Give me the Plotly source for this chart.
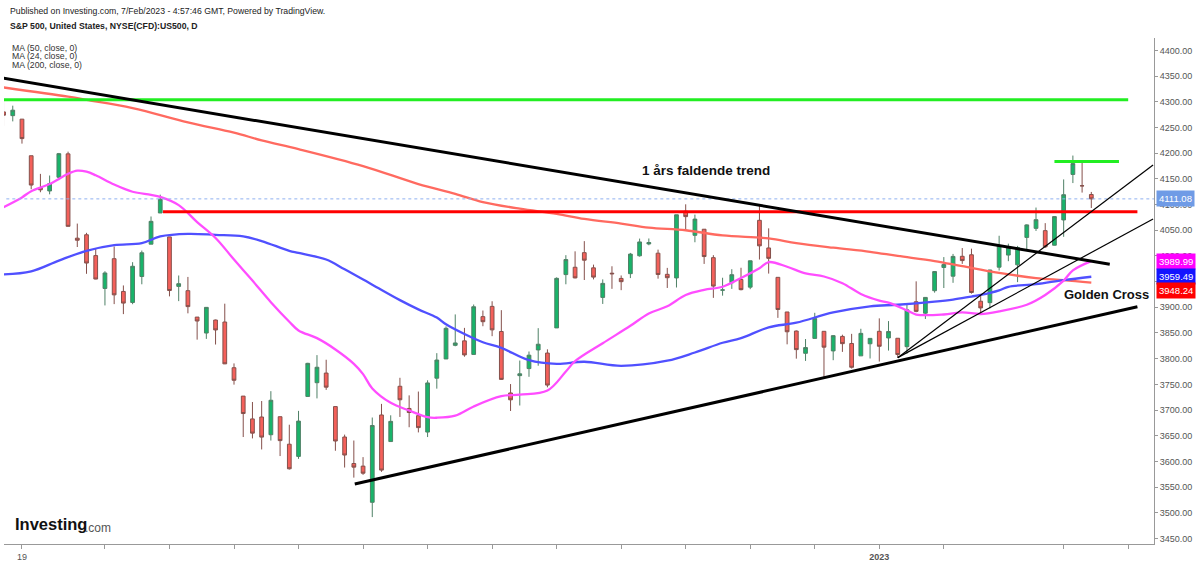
import plotly.graph_objects as go

# S&P 500 daily candles (Aug 17 2022 - Feb 6 2023)
dates = [
    "2022-08-17", "2022-08-18", "2022-08-19", "2022-08-22", "2022-08-23", "2022-08-24", "2022-08-25",
    "2022-08-26", "2022-08-29", "2022-08-30", "2022-08-31",
    "2022-09-01", "2022-09-02", "2022-09-06", "2022-09-07", "2022-09-08", "2022-09-09", "2022-09-12",
    "2022-09-13", "2022-09-14", "2022-09-15", "2022-09-16", "2022-09-19", "2022-09-20", "2022-09-21",
    "2022-09-22", "2022-09-23", "2022-09-26", "2022-09-27", "2022-09-28", "2022-09-29", "2022-09-30",
    "2022-10-03", "2022-10-04", "2022-10-05", "2022-10-06", "2022-10-07", "2022-10-10", "2022-10-11",
    "2022-10-12", "2022-10-13", "2022-10-14", "2022-10-17", "2022-10-18", "2022-10-19", "2022-10-20",
    "2022-10-21", "2022-10-24", "2022-10-25", "2022-10-26", "2022-10-27", "2022-10-28", "2022-10-31",
    "2022-11-01", "2022-11-02", "2022-11-03", "2022-11-04", "2022-11-07", "2022-11-08", "2022-11-09",
    "2022-11-10", "2022-11-11", "2022-11-14", "2022-11-15", "2022-11-16", "2022-11-17", "2022-11-18",
    "2022-11-21", "2022-11-22", "2022-11-23", "2022-11-25", "2022-11-28", "2022-11-29", "2022-11-30",
    "2022-12-01", "2022-12-02", "2022-12-05", "2022-12-06", "2022-12-07", "2022-12-08", "2022-12-09",
    "2022-12-12", "2022-12-13", "2022-12-14", "2022-12-15", "2022-12-16", "2022-12-19", "2022-12-20",
    "2022-12-21", "2022-12-22", "2022-12-23", "2022-12-27", "2022-12-28", "2022-12-29", "2022-12-30",
    "2023-01-03", "2023-01-04", "2023-01-05", "2023-01-06", "2023-01-09", "2023-01-10", "2023-01-11",
    "2023-01-12", "2023-01-13", "2023-01-17", "2023-01-18", "2023-01-19", "2023-01-20", "2023-01-23",
    "2023-01-24", "2023-01-25", "2023-01-26", "2023-01-27", "2023-01-30", "2023-01-31",
    "2023-02-01", "2023-02-02", "2023-02-03", "2023-02-06",
]

opens = [
    4280.40, 4273.13, 4266.31, 4195.08, 4133.09, 4126.55, 4153.26, 4198.74, 4034.58, 4041.25, 4000.67,
    3936.73, 3994.66, 3930.89, 3909.43, 3959.94, 4022.94, 4083.67, 4037.12, 3940.73, 3932.41, 3880.95,
    3849.91, 3875.23, 3871.40, 3782.36, 3727.14, 3682.72, 3686.44, 3651.94, 3687.01, 3633.48,
    3609.78, 3726.46, 3753.25, 3771.97, 3706.74, 3647.51, 3595.86, 3590.83, 3520.37, 3690.41, 3638.65,
    3746.26, 3703.11, 3689.05, 3657.10, 3762.01, 3799.44, 3825.97, 3834.69, 3808.26, 3881.85,
    3901.79, 3852.90, 3733.25, 3766.98, 3780.71, 3817.02, 3810.94, 3859.89, 3963.72, 3977.97, 4006.41,
    3976.82, 3919.26, 3966.39, 3956.23, 3965.51, 4000.30, 4023.34, 4005.36, 3964.19, 3957.18,
    4087.14, 4040.17, 4052.02, 3996.63, 3933.28, 3947.79, 3954.17, 3939.29, 4069.38, 4015.54, 3958.37,
    3890.91, 3853.79, 3810.47, 3839.49, 3853.26, 3815.11, 3843.34, 3829.56, 3805.45, 3829.06,
    3853.29, 3840.36, 3839.74, 3823.37, 3910.82, 3888.57, 3932.35, 3977.57, 3960.60, 3999.28, 4002.25,
    3911.84, 3909.04, 3978.14, 4001.74, 3982.71, 4036.08, 4053.72, 4049.27, 4020.85,
    4070.07, 4158.68, 4136.69, 4119.57,
]
highs = [
    4302.18, 4292.53, 4266.31, 4195.08, 4159.77, 4156.56, 4200.54, 4203.04, 4062.99, 4044.98, 4015.37,
    3970.23, 4018.43, 3942.55, 3987.89, 4010.50, 4076.81, 4119.28, 4037.12, 3961.94, 3959.14, 3880.95,
    3900.45, 3876.01, 3907.07, 3790.78, 3727.14, 3715.67, 3717.53, 3736.74, 3687.01, 3671.44,
    3698.35, 3791.92, 3806.91, 3797.93, 3706.74, 3652.17, 3640.66, 3608.34, 3685.41, 3712.00, 3689.73,
    3762.79, 3728.58, 3736.00, 3757.89, 3810.74, 3862.79, 3886.15, 3859.95, 3905.42, 3893.73,
    3911.79, 3894.44, 3750.59, 3796.34, 3813.95, 3859.40, 3818.20, 3958.33, 4001.48, 4008.97, 4028.84,
    3983.09, 3954.33, 3979.89, 3962.00, 4005.88, 4033.78, 4034.02, 4012.27, 3976.77, 4080.11,
    4100.51, 4080.48, 4052.45, 4001.51, 3957.57, 3974.19, 3977.02, 3990.71, 4100.96, 4053.76, 3958.37,
    3890.91, 3854.86, 3838.24, 3889.28, 3853.26, 3845.80, 3846.65, 3848.32, 3858.19, 3839.85,
    3878.46, 3873.16, 3839.74, 3906.19, 3950.57, 3919.83, 3970.07, 3997.76, 4003.95, 4015.39, 4014.16,
    3922.94, 3972.96, 4039.31, 4023.92, 4019.55, 4061.57, 4094.21, 4063.85, 4077.16,
    4148.95, 4195.44, 4182.36, 4124.63,
]
lows = [
    4253.08, 4261.98, 4218.70, 4129.86, 4124.03, 4119.97, 4147.59, 4057.66, 4017.42, 3965.21, 3954.53,
    3903.65, 3906.21, 3886.75, 3906.03, 3944.81, 4022.94, 4083.67, 3921.31, 3912.01, 3888.28, 3837.08,
    3838.50, 3827.54, 3789.49, 3749.45, 3647.47, 3644.76, 3623.29, 3640.61, 3610.40, 3584.13,
    3604.93, 3726.46, 3722.66, 3739.22, 3620.73, 3588.10, 3568.45, 3573.86, 3491.58, 3579.68, 3638.65,
    3686.53, 3666.51, 3656.44, 3647.42, 3741.65, 3799.44, 3824.07, 3803.79, 3808.26, 3863.18,
    3843.80, 3758.68, 3698.15, 3708.84, 3764.70, 3786.28, 3744.22, 3859.89, 3944.82, 3956.40, 3953.17,
    3954.34, 3906.54, 3935.98, 3933.34, 3956.88, 3998.66, 4020.76, 3955.77, 3937.65, 3938.58,
    4050.87, 4026.63, 3984.49, 3918.39, 3922.68, 3935.83, 3933.04, 3935.30, 3993.03, 3965.65, 3879.45,
    3827.91, 3800.04, 3795.62, 3839.49, 3764.49, 3797.01, 3813.22, 3780.78, 3805.45, 3800.34,
    3794.33, 3815.77, 3802.42, 3809.56, 3890.42, 3877.29, 3928.54, 3937.56, 3947.67, 3984.57, 3926.59,
    3885.54, 3897.86, 3971.64, 3989.79, 3949.06, 4013.29, 4048.70, 4015.55, 4020.44,
    4037.20, 4141.88, 4123.36, 4093.38,
]
closes = [
    4274.04, 4283.74, 4228.48, 4137.99, 4128.73, 4140.77, 4199.12, 4057.66, 4030.61, 3986.16, 3955.00,
    3966.85, 3924.26, 3908.19, 3979.87, 4006.18, 4067.36, 4110.41, 3932.69, 3946.01, 3901.35, 3873.33,
    3899.89, 3855.93, 3789.93, 3757.99, 3693.23, 3655.04, 3647.29, 3719.04, 3640.47, 3585.62,
    3678.43, 3790.93, 3783.28, 3744.52, 3639.66, 3612.39, 3588.84, 3577.03, 3669.91, 3583.07, 3677.95,
    3719.98, 3695.16, 3665.78, 3752.75, 3797.34, 3859.11, 3830.60, 3807.30, 3901.06, 3871.98,
    3856.10, 3759.69, 3719.89, 3770.55, 3806.80, 3828.11, 3748.57, 3956.37, 3992.93, 3957.25, 3991.73,
    3958.79, 3946.56, 3965.34, 3949.94, 4003.58, 4027.26, 4026.12, 3963.94, 3957.63, 4080.11,
    4076.57, 4071.70, 3998.84, 3941.26, 3933.92, 3963.51, 3934.38, 3990.56, 4019.65, 3995.32, 3895.75,
    3852.36, 3817.66, 3821.62, 3878.44, 3822.39, 3844.82, 3829.25, 3783.22, 3849.28, 3839.50,
    3824.14, 3852.97, 3808.10, 3895.08, 3892.09, 3919.25, 3969.61, 3983.17, 3999.09, 3990.97, 3928.86,
    3898.85, 3972.61, 4019.81, 4016.95, 4016.22, 4060.43, 4070.56, 4017.77, 4076.60,
    4119.21, 4179.76, 4136.48, 4111.08,
]

# moving averages (candle index, value)
ma24_idx = [0, 2, 3, 5, 7, 8, 9, 10, 12, 14, 16, 17, 19, 21, 23, 25, 27, 29, 31, 32, 34, 36, 38, 39, 40,
            42, 44, 46, 47, 49, 51, 54, 56, 59, 61, 62, 65, 68, 70, 72, 74, 76, 78, 80, 82, 83, 85, 87,
            89, 91, 93, 95, 96, 98, 99, 102, 104, 106, 108, 111, 113, 115, 116, 118]
ma24_val = [4095, 4114, 4126, 4140, 4160, 4166, 4164, 4157, 4139, 4125, 4119, 4115, 4099, 4066, 4035,
            3993, 3952, 3910, 3872, 3855, 3840, 3818, 3790, 3770, 3742, 3714, 3699, 3686, 3685, 3689,
            3707, 3727, 3730, 3738, 3775, 3795, 3830, 3864, 3888, 3902, 3924, 3934, 3940, 3957, 3976,
            3988, 3979, 3966, 3960, 3947, 3926, 3913, 3909, 3894, 3886, 3886, 3890, 3887, 3892, 3905,
            3924, 3952, 3972, 3989.99]

ma50_idx = [0, 3, 6, 9, 12, 15, 17, 20, 23, 26, 28, 31, 32, 35, 37, 40, 43, 45, 47, 48, 50, 52, 54, 57,
            60, 63, 67, 72, 75, 78, 80, 83, 86, 90, 94, 97, 101, 103, 105, 106, 108, 109, 112, 115, 118]
ma50_val = [3964, 3970, 3991, 4010, 4021, 4025, 4038, 4043, 4041, 4038, 4029, 4010, 4006, 3993, 3974,
            3944, 3914, 3896, 3880, 3867, 3848, 3832, 3821, 3797, 3790, 3794, 3786, 3796, 3812, 3831,
            3840, 3861, 3870, 3890, 3902, 3905, 3911, 3915, 3921, 3924, 3933, 3940, 3945, 3953, 3959.49]

ma200_idx = [0, 7, 9, 14, 20, 25, 28, 32, 39, 45, 49, 52, 56, 60, 63, 67, 70, 74, 78, 83, 86, 90, 94,
             97, 101, 104, 108, 112, 115, 118]
ma200_val = [4328, 4310, 4304, 4288, 4260, 4240, 4225, 4208, 4175, 4140, 4121, 4105, 4092, 4082, 4072,
             4063, 4055, 4050, 4040, 4034, 4025, 4016, 4008, 4000, 3990, 3980, 3967, 3957, 3953, 3948.24]

# drawn levels and trend lines (candle index, price)
green_level_x = [-1, 122]
green_level_y = [4304, 4304]
red_level_x = [17.3, 123]
red_level_y = [4086, 4086]
top_level_x = [114, 121]
top_level_y = [4184, 4184]
down_trend_x = [0, 120]
down_trend_y = [4346, 3984]
up_trend_x = [38.1, 123]
up_trend_y = [3556, 3901]
fan_steep_x = [97, 124.7]
fan_steep_y = [3802, 4177]
fan_flat_x = [97, 124.7]
fan_flat_y = [3802, 4072]
last_price = 4111.08

tick_idx = [2, 11, 18, 25, 32, 39, 46, 53, 60, 67, 74, 81, 88, 95, 102, 115, 122]
tick_txt = ["19", "", "", "", "", "", "", "", "", "", "", "", "", "<b>2023</b>", "", "", ""]

xs = list(range(len(dates)))

fig = go.Figure()

fig.add_trace(go.Candlestick(
    x=xs, open=opens, high=highs, low=lows, close=closes,
    increasing=dict(fillcolor="#18b46a", line=dict(color="#4f8166", width=1)),
    decreasing=dict(fillcolor="#f4605a", line=dict(color="#85504b", width=1)),
    whiskerwidth=0, hoverinfo="skip", showlegend=False,
))

for mx, my, col in [(ma200_idx, ma200_val, "#ff6a60"),
                    (ma50_idx, ma50_val, "#5050ff"),
                    (ma24_idx, ma24_val, "#ff4dff")]:
    fig.add_trace(go.Scatter(x=mx, y=my, mode="lines", line=dict(color=col, width=2.3, shape="spline"),
                             hoverinfo="skip", showlegend=False))

fig.add_trace(go.Scatter(x=[-1, 126], y=[last_price, last_price], mode="lines",
                         line=dict(color="#8fb0f0", width=1, dash="dot"),
                         hoverinfo="skip", showlegend=False))

lines = [
    (green_level_x, green_level_y, "#22ee22", 3),
    (red_level_x, red_level_y, "#ff0000", 3),
    (top_level_x, top_level_y, "#22ee22", 3),
    (down_trend_x, down_trend_y, "#000000", 3),
    (up_trend_x, up_trend_y, "#000000", 3),
    (fan_steep_x, fan_steep_y, "#000000", 1.2),
    (fan_flat_x, fan_flat_y, "#000000", 1.2),
]
for lx, ly, col, w in lines:
    fig.add_trace(go.Scatter(x=lx, y=ly, mode="lines", line=dict(color=col, width=w),
                             hoverinfo="skip", showlegend=False))

font_main = "Liberation Sans, Arial, sans-serif"

fig.add_annotation(x=76.2, y=4167, text="<b>1 års faldende trend</b>", showarrow=False,
                   font=dict(size=13.5, color="#111"), xanchor="center", yanchor="middle")
fig.add_annotation(x=119.6, y=3924, text="<b>Golden Cross</b>", showarrow=False,
                   font=dict(size=13, color="#111"), xanchor="center", yanchor="middle")

# header texts
header = [
    ("Published on Investing.com, 7/Feb/2023 - 4:57:46 GMT, Powered by TradingView.", 1.053, False),
    ("S&P 500, United States, NYSE(CFD):US500, D", 1.0236, True),
]
for txt, yy, bold in header:
    fig.add_annotation(xref="paper", yref="paper", x=0.0035, y=yy,
                       text=f"<b>{txt}</b>" if bold else txt, showarrow=False,
                       xanchor="left", yanchor="middle", font=dict(size=8.7, color="#222"))

ma_labels = ["MA (50, close, 0)", "MA (24, close, 0)", "MA (200, close, 0)"]
for i, txt in enumerate(ma_labels):
    fig.add_annotation(xref="paper", yref="paper", x=0.005, y=0.981 - i * 0.0175, text=txt,
                       showarrow=False, xanchor="left", yanchor="middle",
                       font=dict(size=8.7, color="#333"))

# logo
fig.add_annotation(xref="paper", yref="paper", x=0.0078, y=0.039, text="<b>Investing</b>",
                   showarrow=False, xanchor="left", yanchor="middle",
                   font=dict(size=16.5, color="#111"))
fig.add_annotation(xref="paper", yref="paper", x=0.0685, y=0.032, text=".com",
                   showarrow=False, xanchor="left", yanchor="middle",
                   font=dict(size=12, color="#555"))

# right-hand price tags
tags = [
    (last_price, "4111.08", "#6f9be6", 0),
    (3989.99, "3989.99", "#ff00ff", 0),
    (3959.49, "3959.49", "#1414ff", 0),
    (3948.24, "3948.24", "#ff0000", -8),
]
for val, txt, col, shift in tags:
    fig.add_annotation(xref="paper", yref="y", x=1.0, y=val, text=txt, showarrow=False,
                       xanchor="left", yanchor="middle", xshift=2, yshift=shift,
                       bgcolor=col, borderpad=2, font=dict(size=9.5, color="#ffffff"))

fig.update_layout(
    width=1200, height=566,
    margin=dict(l=4, r=46, t=38, b=19, pad=0),
    paper_bgcolor="#ffffff", plot_bgcolor="#ffffff",
    font=dict(family=font_main, size=9, color="#555"),
    boxgap=0.42,
    showlegend=False,
    xaxis=dict(range=[0.05, 124.8], showgrid=False, zeroline=False, showline=True,
               linecolor="#999", linewidth=1, ticks="outside", ticklen=4, tickcolor="#999",
               tickvals=tick_idx, ticktext=tick_txt, tickfont=dict(size=9, color="#555"),
               rangeslider=dict(visible=False)),
    yaxis=dict(side="right", range=[3439.2, 4424.3], dtick=50, tickformat=".2f",
               showgrid=False, zeroline=False, showline=True, linecolor="#999", linewidth=1,
               ticks="outside", ticklen=3, tickcolor="#999", tickfont=dict(size=9, color="#555")),
)

# page body has a default margin; drop it so the figure sits at the window corner
fig.write_html("out.html", config={"displayModeBar": False},
               post_script="document.body.style.margin='0px';")
